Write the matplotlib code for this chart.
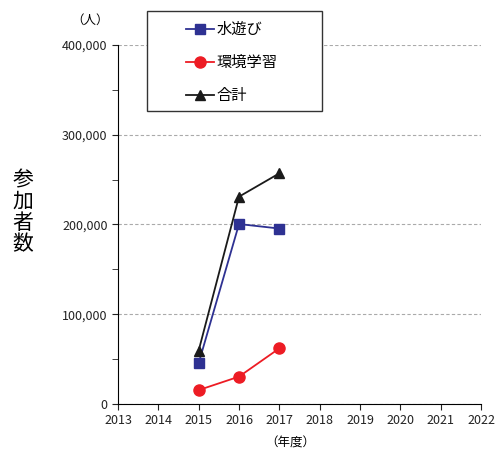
import matplotlib
matplotlib.use("Agg")
import matplotlib.pyplot as plt
from matplotlib.patches import Rectangle
from matplotlib.ticker import MultipleLocator, FuncFormatter

plt.rcParams['font.family'] = ['Noto Sans CJK JP', 'DejaVu Sans']

years = [2015, 2016, 2017]
mizuasobi = [45500, 200500, 195500]
kankyo = [15500, 30500, 62000]
goukei = [59500, 231000, 257000]
labels = ["水遊び", "環境学習", "合計"]

fig = plt.figure(figsize=(4.95, 4.55), dpi=100)
ax = fig.add_axes([118 / 495, 1 - 404 / 455, 363 / 495, 359 / 455])

l1, = ax.plot(years, mizuasobi, color="#2e3192", marker="s", markersize=7, lw=1.3)
l2, = ax.plot(years, kankyo, color="#ed1c24", marker="o", markersize=8, lw=1.3)
l3, = ax.plot(years, goukei, color="#1a1a1a", marker="^", markersize=7, lw=1.3)

ax.set_xlim(2013, 2022)
ax.set_ylim(0, 400000)
ax.xaxis.set_major_locator(MultipleLocator(1))
ax.yaxis.set_major_locator(MultipleLocator(100000))
ax.yaxis.set_minor_locator(MultipleLocator(50000))
ax.yaxis.set_major_formatter(FuncFormatter(lambda v, p: f"{int(v):,}"))
ax.grid(axis="y", which="major", color="#aaaaaa", linestyle=(0, (3, 2)), lw=0.8)
ax.set_axisbelow(True)
for s in ["top", "right"]:
    ax.spines[s].set_visible(False)
ax.tick_params(axis="both", which="both", direction="out", length=4, labelsize=9, colors="#222222")

fig.text(90 / 495, 1 - 20 / 455, "（人）", ha="center", va="center", fontsize=9)
fig.text(290 / 495, 1 - 443 / 455, "（年度）", ha="center", va="center", fontsize=9)
fig.text(23 / 495, 1 - 212 / 455, "参\n加\n者\n数", ha="center", va="center",
         fontsize=15, linespacing=0.95)

# legend frame drawn by hand, legend entries inside it
fig.patches.append(Rectangle((147 / 495, 1 - 111 / 455), 175 / 495, 100 / 455,
                             transform=fig.transFigure, facecolor="white",
                             edgecolor="#333333", lw=1.0, zorder=5))
leg = fig.legend([l1, l2, l3], labels, loc="upper left",
                 bbox_to_anchor=(186 / 495, 1 - 21 / 455), bbox_transform=fig.transFigure,
                 frameon=False, fontsize=11, labelspacing=1.05,
                 handlelength=1.8, handletextpad=0.2, borderpad=0, borderaxespad=0)
leg.set_zorder(6)

fig.savefig("out.png", dpi=100)
